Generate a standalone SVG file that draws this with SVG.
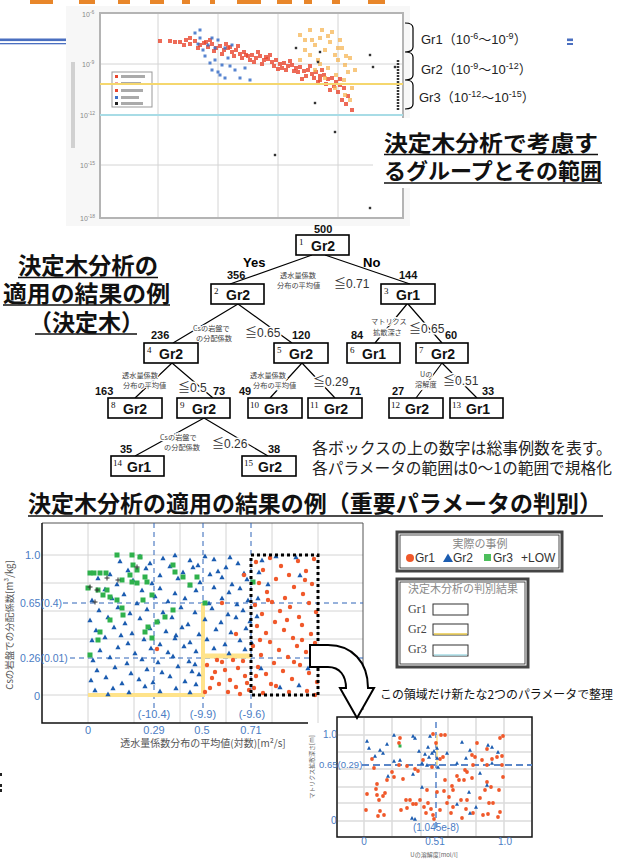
<svg xmlns="http://www.w3.org/2000/svg" width="619" height="859" viewBox="0 0 619 859">
<style>
.jp{font-family:"Noto Sans CJK JP",sans-serif}
.ttl{font-family:"Noto Sans CJK JP",sans-serif;font-weight:700;fill:#111}
.ul{stroke:#111;stroke-width:1.6}
.box{fill:#fff;stroke:#000;stroke-width:1.6}
.cnt{font:bold 11px "Liberation Sans",sans-serif;fill:#111}
.gr{font:bold 14px "Liberation Sans",sans-serif;fill:#111}
.idx{font:9px "Liberation Serif",serif;fill:#111}
.cond{font:7.2px "Noto Sans CJK JP",sans-serif;fill:#444;stroke:#fff;stroke-width:2.5;paint-order:stroke}
.le{font:12px "Liberation Sans","Noto Sans CJK JP",sans-serif;fill:#333;stroke:#fff;stroke-width:3;paint-order:stroke}
.edge{stroke:#000;stroke-width:1.2;fill:none}
.ax{font:11px "Liberation Sans",sans-serif;fill:#4a7cc4}
.axs{font:10px "Liberation Sans",sans-serif;fill:#4a7cc4}
.grid{stroke:#d4d4d4;stroke-width:1}
.dash{stroke:#2e64b8;stroke-width:1;stroke-dasharray:5 4;fill:none}
.grl{font:13px "Liberation Sans","Noto Sans CJK JP",sans-serif;fill:#222}
.pts{fill:none;stroke:none}
</style>
<defs>
<marker id="tri" markerUnits="userSpaceOnUse" markerWidth="6" markerHeight="6" refX="3" refY="3" viewBox="0 0 6 6" overflow="visible"><path d="M3,0.6L5.6,5.2H0.4Z" fill="#1b5cb0"/></marker>
<marker id="dot" markerUnits="userSpaceOnUse" markerWidth="6" markerHeight="6" refX="3" refY="3" viewBox="0 0 6 6" overflow="visible"><circle cx="3" cy="3" r="2.2" fill="#f0582a"/></marker>
<marker id="sq" markerUnits="userSpaceOnUse" markerWidth="6" markerHeight="6" refX="3" refY="3" viewBox="0 0 6 6" overflow="visible"><rect x="0.5" y="0.5" width="5" height="5" fill="#2fb14c"/></marker>
<marker id="plus" markerUnits="userSpaceOnUse" markerWidth="6" markerHeight="6" refX="3" refY="3" viewBox="0 0 6 6" overflow="visible"><path d="M3,0.5V5.5M0.5,3H5.5" stroke="#333" stroke-width="1"/></marker>
<marker id="tri2" markerUnits="userSpaceOnUse" markerWidth="4" markerHeight="4" refX="2" refY="2" viewBox="0 0 4 4" overflow="visible"><path d="M2,0.1L4,3.8H0Z" fill="#1b5cb0"/></marker>
<marker id="dot2" markerUnits="userSpaceOnUse" markerWidth="4" markerHeight="4" refX="2" refY="2" viewBox="0 0 4 4" overflow="visible"><circle cx="2" cy="2" r="1.9" fill="#f0582a"/></marker>
<marker id="tr" markerUnits="userSpaceOnUse" markerWidth="4" markerHeight="4" refX="2" refY="2" viewBox="0 0 4 4" overflow="visible"><rect x="0" y="0" width="4" height="4" fill="#e8462e" opacity="0.8"/></marker>
<marker id="tb" markerUnits="userSpaceOnUse" markerWidth="4" markerHeight="4" refX="2" refY="2" viewBox="0 0 4 4" overflow="visible"><rect x="0.5" y="0.5" width="3" height="3" fill="#3a6fc8" opacity="0.85"/></marker>
<marker id="to" markerUnits="userSpaceOnUse" markerWidth="4" markerHeight="4" refX="2" refY="2" viewBox="0 0 4 4" overflow="visible"><rect x="0" y="0" width="4" height="4" fill="#f5b04a" opacity="0.7"/></marker>
<marker id="tk" markerUnits="userSpaceOnUse" markerWidth="4" markerHeight="4" refX="2" refY="2" viewBox="0 0 4 4" overflow="visible"><rect x="0.8" y="0.8" width="2.4" height="2.4" fill="#333"/></marker>
</defs>
<rect width="619" height="859" fill="#fff"/>

<g id="header">
<g fill="#e8862a">
<rect x="30" y="0" width="23" height="4"/><rect x="79" y="0" width="16" height="4"/><rect x="118" y="0" width="12" height="4"/><rect x="150" y="0" width="14" height="4"/><rect x="182" y="0" width="8" height="4"/><rect x="210" y="0" width="5" height="4"/><rect x="237" y="0" width="24" height="4"/><rect x="277" y="0" width="15" height="4"/><rect x="304" y="0" width="8" height="4"/><rect x="332" y="0" width="8" height="4"/><rect x="368" y="0" width="17" height="4"/>
</g>
<rect x="0" y="38.5" width="70" height="2.6" fill="#4a6fc0"/>
<rect x="0" y="43" width="70" height="1.3" fill="#4a6fc0"/>
<rect x="567" y="38.5" width="6" height="2.6" fill="#4a6fc0"/>
<rect x="567" y="43" width="6" height="2" fill="#4a6fc0"/>
</g>

<g id="top-chart">
<rect x="66" y="6" width="344" height="220" fill="#f7f7f7"/>
<rect x="100" y="13" width="303" height="205" fill="#fff" stroke="#b4b4b4" stroke-width="2"/>
<g class="grid" stroke="#e2e2e2"><path d="M158,14V217M218,14V217M278,14V217M338,14V217M101,64H402M101,165H402"/></g>
<g font-family="Liberation Sans,sans-serif" font-size="7" fill="#888">
<text x="82" y="17">10<tspan dy="-3" font-size="5">-6</tspan></text>
<text x="82" y="67">10<tspan dy="-3" font-size="5">-9</tspan></text>
<text x="80" y="118">10<tspan dy="-3" font-size="5">-12</tspan></text>
<text x="80" y="168">10<tspan dy="-3" font-size="5">-15</tspan></text>
<text x="80" y="221">10<tspan dy="-3" font-size="5">-18</tspan></text>
</g>
<rect x="71" y="62" width="4" height="86" fill="#8a8a8a" opacity="0.35"/>
<rect x="112" y="72" width="40" height="35" fill="#fff" stroke="#999"/>
<rect x="115" y="75" width="3" height="3" fill="#e8462e"/><rect x="115" y="82" width="3" height="3" fill="#f0a0a0"/><rect x="115" y="89" width="3" height="3" fill="#e8462e"/><rect x="115" y="96" width="3" height="3" fill="#3a6fc8"/><rect x="115" y="102" width="3" height="3" fill="#222"/>
<g fill="#aaa"><rect x="121" y="75" width="24" height="3"/><rect x="121" y="82" width="20" height="3"/><rect x="121" y="89" width="22" height="3"/><rect x="121" y="96" width="18" height="3"/><rect x="121" y="102" width="22" height="3"/></g>
<path class="pts" marker-mid="url(#tr)" marker-start="url(#tr)" marker-end="url(#tr)" d="M160,41 170,41 175,42 180,42 186,40 190,44 195,41 200,45 204,43 208,47 212,44 216,48 220,46 224,50 228,48 232,52 236,50 240,54 244,52 248,56 252,55 256,58 260,56 264,60 268,59 272,62 276,60 280,64 284,63 288,66 292,65 296,68 300,67 304,71 308,70 312,74 316,72 320,76 324,75 328,79 332,78 336,82 340,85 344,88 198,48 210,40 226,44 242,58 258,52 274,66 290,61 306,76 322,70 338,92 342,100 348,96 330,90 318,82 286,70 262,64 234,56 250,60 266,57 282,68 298,72 314,78 326,84 346,104 352,110 214,51 230,47 246,55 254,62 270,55 278,69 294,71 310,66 302,79 320,80 334,86 340,79 206,42 222,54 238,46 190,38 184,45"/>
<path class="pts" marker-mid="url(#tb)" marker-start="url(#tb)" marker-end="url(#tb)" d="M195,33 200,38 198,44 203,50 205,56 210,63 212,70 218,72 220,75 225,78 215,60 208,45 222,65 230,66 235,70 228,58 240,78 245,68 250,80 215,48 225,48 232,45 218,40 200,30 212,38"/>
<path class="pts" marker-mid="url(#to)" marker-start="url(#to)" marker-end="url(#to)" d="M300,35 305,40 310,30 315,45 320,38 325,50 330,42 335,55 338,60 342,48 345,65 348,72 310,55 318,60 328,68 336,75 344,80 350,58 305,50 322,30 332,32 340,40 315,70 325,78 335,88 345,95 350,100 300,60 355,70 352,88 312,40 328,36 338,48 346,56 320,64"/>
<path class="pts" marker-mid="url(#tk)" marker-start="url(#tk)" marker-end="url(#tk)" d="M296,48 320,52 318,62 370,55 373,67 395,67 315,103 335,132 275,155 370,208"/>
<path d="M398,60V110" stroke="#333" stroke-width="2.5" stroke-dasharray="2 1"/>
<path d="M100,84H403" stroke="#f5d76e" stroke-width="2"/>
<path d="M100,115H403" stroke="#a8dce6" stroke-width="2"/>
<rect x="373" y="118" width="240" height="70" fill="#fff"/>
</g>

<g id="group-ranges">
<path class="edge" d="M405,23q8,0 8,5v19q0,5 -8,5M405,52q8,0 8,5v18q0,5 -8,5M405,80q8,0 8,5v19q0,5 -8,5"/>
<text x="421" y="44" class="grl">Gr1（10<tspan dy="-5" font-size="9">-6</tspan><tspan dy="5">～10</tspan><tspan dy="-5" font-size="9">-9</tspan><tspan dy="5">）</tspan></text>
<text x="421" y="74" class="grl">Gr2（10<tspan dy="-5" font-size="9">-9</tspan><tspan dy="5">～10</tspan><tspan dy="-5" font-size="9">-12</tspan><tspan dy="5">）</tspan></text>
<text x="419" y="102" class="grl">Gr3（10<tspan dy="-5" font-size="9">-12</tspan><tspan dy="5">～10</tspan><tspan dy="-5" font-size="9">-15</tspan><tspan dy="5">）</tspan></text>
<text x="384" y="151" class="ttl" font-size="22" textLength="214" lengthAdjust="spacingAndGlyphs">決定木分析で考慮す</text>
<text x="384" y="179" class="ttl" font-size="22" textLength="218" lengthAdjust="spacingAndGlyphs">るグループとその範囲</text>
<path class="ul" d="M384,154.5H598M384,183H602"/>
</g>

<g id="tree-title">
<text x="18" y="274" class="ttl" font-size="23" textLength="140" lengthAdjust="spacingAndGlyphs">決定木分析の</text>
<text x="3" y="302" class="ttl" font-size="23" textLength="167" lengthAdjust="spacingAndGlyphs">適用の結果の例</text>
<text x="29" y="331" class="ttl" font-size="23">（決定木）</text>
<path class="ul" d="M18,277.5H158M3,305H170M35,334H137"/>
</g>

<g id="connectors">
<path class="edge" d="M312,255L230,284M325,255L410,284M238,304L173,343M238,304L292,343M407,304L375,343M408,304L442,343M172,363L135,398M172,363L213,398M302,363L270,398M302,363L335,398M442,363L416,398M442,363L477,398M204,418L135,456M204,418L268,456"/>
<text x="243" y="267" font-family="Liberation Sans,sans-serif" font-weight="bold" font-size="13">Yes</text>
<text x="363" y="267" font-family="Liberation Sans,sans-serif" font-weight="bold" font-size="13">No</text>
<text class="cond" y="277.5"><tspan x="280">透水量係数</tspan><tspan x="277" dy="10.5">分布の平均値</tspan></text><text class="le" x="334" y="288">≦0.71</text>
<text class="cond" y="330.5"><tspan x="193">Csの岩盤で</tspan><tspan x="196" dy="10">の分配係数</tspan></text><text class="le" x="245" y="337">≦0.65</text>
<text class="cond" y="377.5"><tspan x="122">透水量係数</tspan><tspan x="123" dy="10.5">分布の平均値</tspan></text><text class="le" x="178" y="392">≦0.5</text>
<text class="cond" y="377.5"><tspan x="250">透水量係数</tspan><tspan x="253" dy="10.5">分布の平均値</tspan></text><text class="le" x="313" y="386">≦0.29</text>
<text class="cond" y="324"><tspan x="371">マトリクス</tspan><tspan x="373" dy="10.5">拡散深さ</tspan></text><text class="le" x="409" y="333">≦0.65</text>
<text class="cond" y="376.5"><tspan x="420">Uの</tspan><tspan x="415" dy="10.5">溶解度</tspan></text><text class="le" x="443" y="385">≦0.51</text>
<text class="cond" y="440"><tspan x="160">Csの岩盤で</tspan><tspan x="164" dy="10">の分配係数</tspan></text><text class="le" x="212" y="448">≦0.26</text>
</g>

<g id="n1"><text class="cnt" x="314" y="233">500</text><rect class="box" x="296" y="235" width="53" height="20"/><text class="idx" x="299" y="245">1</text><text class="gr" x="311" y="251">Gr2</text></g>
<g id="n2"><text class="cnt" x="227" y="279">356</text><rect class="box" x="211" y="284" width="53" height="20"/><text class="idx" x="214" y="294">2</text><text class="gr" x="226" y="300">Gr2</text></g>
<g id="n3"><text class="cnt" x="399" y="279">144</text><rect class="box" x="381" y="284" width="54" height="20"/><text class="idx" x="384" y="294">3</text><text class="gr" x="396" y="300">Gr1</text></g>
<g id="n4"><text class="cnt" x="151" y="339">236</text><rect class="box" x="144" y="343" width="54" height="20"/><text class="idx" x="147" y="353">4</text><text class="gr" x="159" y="359">Gr2</text></g>
<g id="n5"><text class="cnt" x="292" y="339">120</text><rect class="box" x="274" y="343" width="54" height="20"/><text class="idx" x="277" y="353">5</text><text class="gr" x="289" y="359">Gr2</text></g>
<g id="n6"><text class="cnt" x="351" y="339">84</text><rect class="box" x="347" y="343" width="53" height="20"/><text class="idx" x="350" y="353">6</text><text class="gr" x="362" y="359">Gr1</text></g>
<g id="n7"><text class="cnt" x="445" y="339">60</text><rect class="box" x="416" y="343" width="52" height="20"/><text class="idx" x="419" y="353">7</text><text class="gr" x="431" y="359">Gr2</text></g>
<g id="n8"><text class="cnt" x="95" y="395">163</text><rect class="box" x="108" y="398" width="54" height="20"/><text class="idx" x="111" y="408">8</text><text class="gr" x="123" y="414">Gr2</text></g>
<g id="n9"><text class="cnt" x="213" y="395">73</text><rect class="box" x="177" y="398" width="53" height="20"/><text class="idx" x="180" y="408">9</text><text class="gr" x="192" y="414">Gr2</text></g>
<g id="n10"><text class="cnt" x="239" y="395">49</text><rect class="box" x="248" y="398" width="54" height="20"/><text class="idx" x="250" y="408">10</text><text class="gr" x="264" y="414">Gr3</text></g>
<g id="n11"><text class="cnt" x="349" y="395">71</text><rect class="box" x="308" y="398" width="54" height="20"/><text class="idx" x="310" y="408">11</text><text class="gr" x="324" y="414">Gr2</text></g>
<g id="n12"><text class="cnt" x="392" y="395">27</text><rect class="box" x="389" y="398" width="54" height="20"/><text class="idx" x="391" y="408">12</text><text class="gr" x="405" y="414">Gr2</text></g>
<g id="n13"><text class="cnt" x="482" y="395">33</text><rect class="box" x="450" y="398" width="53" height="20"/><text class="idx" x="452" y="408">13</text><text class="gr" x="466" y="414">Gr1</text></g>
<g id="n14"><text class="cnt" x="120" y="453">35</text><rect class="box" x="111" y="456" width="53" height="20"/><text class="idx" x="113" y="466">14</text><text class="gr" x="127" y="472">Gr1</text></g>
<g id="n15"><text class="cnt" x="268" y="453">38</text><rect class="box" x="242" y="456" width="54" height="20"/><text class="idx" x="244" y="466">15</text><text class="gr" x="258" y="472">Gr2</text></g>

<g id="tree-note">
<text class="jp" font-size="15.5" fill="#222" y="454"><tspan x="312" textLength="300" lengthAdjust="spacingAndGlyphs">各ボックスの上の数字は総事例数を表す。</tspan><tspan x="312" dy="19.5" textLength="300" lengthAdjust="spacingAndGlyphs">各パラメータの範囲は0～1の範囲で規格化</tspan></text>
</g>

<g id="section-title">
<text x="28" y="512" class="ttl" font-size="23" textLength="574" lengthAdjust="spacingAndGlyphs">決定木分析の適用の結果の例（重要パラメータの判別）</text>
<path class="ul" d="M28,516H603"/>
</g>

<g id="main-chart">
<rect x="42" y="523" width="321" height="200" fill="#fff"/>
<path class="grid" d="M88,523V723M134,523V723M180,523V723M226,523V723M272,523V723M318,523V723M42,555H363M42,583H363M42,611H363M42,639H363M42,667H363M42,695H363"/>
<path d="M42,523H363V710" stroke="#555" stroke-width="1" fill="none"/>
<path d="M42,523V723H308" stroke="#111" stroke-width="1.5" fill="none"/>
<path class="dash" d="M154,523V708M203,523V708M251,523V708M63,603H363M70,658H363"/>
<path d="M88,695H203V603" stroke="#ffe38a" stroke-width="4" fill="none"/>
<path d="M203,656H251" stroke="#ffe38a" stroke-width="5"/>
<path class="pts" marker-start="url(#tri)" marker-mid="url(#tri)" marker-end="url(#tri)" d="M140,556 163,558 175,555 190,560 205,556 214,559 230,557 238,563 262,560 276,556 296,557 150,563 120,561 198,565 128,570 146,568 170,566 183,572 193,567 218,571 226,567 244,573 259,572 300,575 110,574 160,575 210,574 98,578 133,580 152,583 178,578 200,582 222,577 232,584 247,579 268,584 117,584 190,585 105,589 142,590 160,588 175,593 196,590 214,587 229,592 240,588 258,598 124,594 92,600 112,598 137,603 155,596 168,601 185,598 209,603 222,598 237,604 248,600 99,610 118,607 130,613 147,609 163,612 181,607 195,612 212,608 228,614 243,610 257,616 90,620 108,617 125,623 140,618 158,621 172,617 188,624 205,619 221,622 236,617 250,621 96,630 114,627 132,633 150,628 166,631 182,627 199,634 216,629 231,632 246,628 121,635 176,635 92,640 105,637 128,643 144,639 160,644 175,638 190,642 207,639 225,644 240,640 252,643 100,650 118,647 135,653 151,648 168,652 184,646 196,651 214,648 229,653 245,649 93,660 110,657 127,663 142,659 158,662 173,656 189,661 195,664 97,670 115,667 131,673 147,669 162,672 178,666 192,671 199,674 91,680 106,677 122,683 139,679 153,682 170,676 185,681 196,684 95,690 113,688 129,692 145,686 160,691 176,688 190,692 108,694 261,668 280,687 299,685 308,668"/>
<path class="pts" marker-start="url(#dot)" marker-mid="url(#dot)" marker-end="url(#dot)" d="M207,665 215,672 222,662 230,680 238,668 245,676 210,688 219,684 228,692 236,687 243,661 249,690 212,678 225,670 240,694 205,692 233,660 247,683 217,660 222,603 236,634 244,575 157,649 256,562 263,570 270,558 281,566 289,575 298,561 306,571 314,559 259,583 267,592 276,579 285,598 294,587 303,594 312,584 255,605 262,614 272,602 280,611 290,607 299,617 309,603 316,612 257,626 266,633 275,622 284,630 293,638 302,625 311,634 253,646 261,655 270,642 279,650 288,657 297,646 306,652 315,643 258,667 266,674 274,663 283,671 292,679 300,665 309,673 317,682 254,688 263,693 271,684 289,692 307,691 315,695 260,640 287,620 305,580 268,600 294,662 312,660 276,686 256,676 302,640"/>
<path class="pts" marker-start="url(#sq)" marker-mid="url(#sq)" marker-end="url(#sq)" d="M90,573 94,573 100,573 106,573 88,588 98,590 107,590 103,595 110,597 117,600 117,555 132,555 140,557 133,565 137,570 130,575 122,580 132,582 137,583 145,577 147,582 143,600 152,595 173,565 175,572 183,577 190,585 197,577 173,610 165,617 157,622 148,627 145,632 152,638 98,640 100,632 110,620 90,655 122,608 123,615 205,603 253,582"/>
<path class="pts" marker-start="url(#plus)" marker-mid="url(#plus)" marker-end="url(#plus)" d="M90,587 107,578 118,580 95,602 137,567 97,590"/>
<path d="M251,555H318V695H251Z" stroke="#000" stroke-width="3" stroke-dasharray="3 3" fill="none"/>
<g class="ax">
<text x="25" y="559">1.0</text>
<text x="20" y="607" font-size="10.5">0.65(0.4)</text>
<text x="20" y="662" font-size="10.5">0.26(0.01)</text>
<text x="34" y="700">0</text>
<text x="154" y="718" text-anchor="middle">(-10.4)</text>
<text x="203" y="718" text-anchor="middle">(-9.9)</text>
<text x="252" y="718" text-anchor="middle">(-9.6)</text>
<text x="88" y="734" text-anchor="middle">0</text>
<text x="154" y="734" text-anchor="middle">0.29</text>
<text x="202" y="734" text-anchor="middle">0.5</text>
<text x="251" y="734" text-anchor="middle">0.71</text>
</g>
<text x="203" y="747" text-anchor="middle" class="jp" font-size="10" fill="#555">透水量係数分布の平均値(対数)[m²/s]</text>
<text transform="translate(13,625) rotate(-90)" text-anchor="middle" class="jp" font-size="9.5" fill="#555">Csの岩盤での分配係数[m³/kg]</text>
</g>

<g id="legend-actual">
<rect x="397" y="532" width="165" height="39" fill="#fff" stroke="#444" stroke-width="3"/>
<rect x="400" y="535" width="159" height="33" fill="none" stroke="#222" stroke-width="0.8"/>
<text x="480" y="548" text-anchor="middle" class="jp" font-size="11" fill="#888">実際の事例</text>
<circle cx="410" cy="558" r="4" fill="#f0582a"/>
<path d="M448,553.5L453,562H443Z" fill="#1b5cb0"/>
<rect x="484" y="554" width="7" height="7" fill="#4cbf5c"/>
<g font-family="Liberation Sans,sans-serif" font-size="12" fill="#333">
<text x="415" y="562">Gr1</text><text x="453" y="562">Gr2</text><text x="493" y="562">Gr3</text><text x="521" y="562">+LOW</text>
</g>
</g>

<g id="legend-result">
<rect x="397" y="579" width="131" height="88" fill="#fff" stroke="#444" stroke-width="3"/>
<rect x="400" y="582" width="125" height="82" fill="none" stroke="#222" stroke-width="0.8"/>
<text x="408" y="593" class="jp" font-size="11" fill="#888">決定木分析の判別結果</text>
<g font-family="Liberation Serif,serif" font-size="12" fill="#444">
<text x="408" y="613">Gr1</text><text x="408" y="633">Gr2</text><text x="408" y="653">Gr3</text>
</g>
<rect x="433" y="604" width="35" height="11" fill="#fff" stroke="#333"/>
<rect x="433" y="624" width="35" height="11" fill="#fff" stroke="#333"/>
<path d="M434,634H467" stroke="#e8c84a" stroke-width="1.5"/>
<rect x="433" y="645" width="35" height="11" fill="#fff" stroke="#333"/>
<path d="M434,655H467" stroke="#a8dce6" stroke-width="1.5"/>
</g>

<g id="inset-chart">
<rect x="337" y="717" width="195" height="120" fill="#fff"/>
<path d="M364,718V836M392,718V836M421,718V836M448,718V836M476,718V836M504,718V836M338,735H531M338,752H531M338,769H531M338,787H531M338,803H531M338,821H531" stroke="#dcdcdc" stroke-width="1.5"/>
<rect x="337" y="717" width="195" height="120" fill="none" stroke="#111" stroke-width="1.5"/>
<path d="M436,722V828" stroke="#3a6fc0" stroke-width="1.3" stroke-dasharray="6 4"/>
<path d="M362,765H532" stroke="#5a86c8" stroke-width="2" stroke-dasharray="7 4"/>
<path d="M437,735V765" stroke="#ffe38a" stroke-width="1.5"/>
<path class="pts" marker-start="url(#dot2)" marker-mid="url(#dot2)" marker-end="url(#dot2)" d="M372,759 374,768 367,794 376,789 377,795 379,800 383,796 385,793 377,784 387,780 392,772 394,777 366,810 378,816 380,811 384,815 400,738 399,743 399,765 403,779 407,766 406,800 407,808 401,810 413,804 416,804 418,771 423,760 424,807 426,813 428,803 431,809 433,815 434,819 432,767 433,734 436,743 440,759 441,735 445,735 443,757 445,780 444,791 449,797 452,786 453,790 457,776 459,780 461,800 464,780 466,809 462,818 465,770 467,772 472,778 472,755 473,765 475,757 477,743 480,798 482,760 483,815 485,790 487,782 487,749 488,814 489,803 491,787 492,759 497,757 499,790 500,738 502,756 502,765 503,777 503,736 500,812 498,817 473,813 487,765 447,803 451,813 437,792 427,790 420,800 415,769 410,800 440,810 453,807 467,800 493,803"/>
<path class="pts" marker-start="url(#tri2)" marker-mid="url(#tri2)" marker-end="url(#tri2)" d="M367,741 369,748 380,750 387,744 383,753 375,756 394,735 394,761 400,760 413,736 415,738 419,751 425,754 428,747 429,757 430,736 432,753 434,751 437,758 447,753 437,748 457,763 462,742 466,758 470,750 488,745 492,747 498,752 492,763 480,773 487,785 469,792 457,804 476,807 470,813 422,787 413,774 415,819 412,818 388,776 427,765 438,767 422,763"/>
<rect x="398.5" y="744.5" width="3" height="3" fill="#2fb14c"/>
<g class="axs">
<text x="323" y="738">1.0</text>
<text x="319" y="768" font-size="9.5">0.65(0.29)</text>
<text x="331" y="824">0</text>
<text x="436" y="831" text-anchor="middle">(1.045e-8)</text>
<text x="364" y="845" text-anchor="middle">0</text>
<text x="435" y="845" text-anchor="middle">0.51</text>
<text x="505" y="845" text-anchor="middle">1.0</text>
</g>
<text x="434" y="857" text-anchor="middle" class="jp" font-size="6" fill="#666">Uの溶解度[mol/l]</text>
<text transform="translate(314,767) rotate(-90)" text-anchor="middle" class="jp" font-size="6" fill="#666">マトリクス拡散深さ[m]</text>
</g>

<g id="arrow">
<path d="M310,645H328C352,645 368,662 368,688H374L357,718L340,688H346C346,676 340,667 328,667H310Z" fill="#fff" stroke="#000" stroke-width="2" stroke-linejoin="miter"/>
<text x="380" y="699" class="jp" font-size="12" fill="#111" textLength="233" lengthAdjust="spacingAndGlyphs">この領域だけ新たな2つのパラメータで整理</text>
</g>

<g id="edge-marks" fill="#222">
<rect x="0" y="773" width="2" height="3"/><rect x="0" y="784" width="2" height="3"/><rect x="0" y="789" width="2" height="3"/>
</g>
</svg>
